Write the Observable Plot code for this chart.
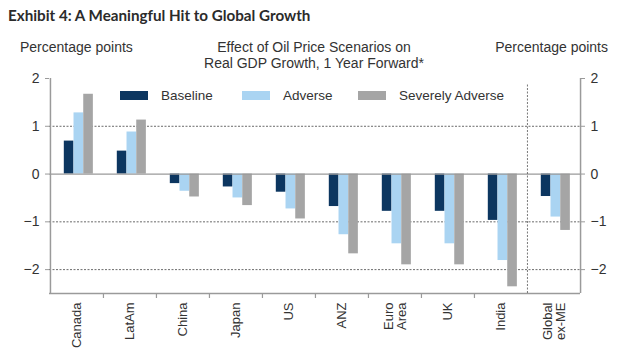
<!DOCTYPE html>
<html><head><meta charset="utf-8">
<script src="https://cdn.jsdelivr.net/npm/d3@7"></script>
<script src="https://cdn.jsdelivr.net/npm/@observablehq/plot@0.6"></script>
<style>
body{margin:0;background:#fff;}
#wrap{position:relative;width:618px;height:348px;font-family:"Liberation Sans",Arial,sans-serif;color:#333;overflow:hidden;}
#wrap svg{position:absolute;left:0;top:0;}
.t{position:absolute;white-space:nowrap;font-size:14px;line-height:16px;}
.sw{position:absolute;width:28px;height:9px;}
</style></head><body><div id="wrap"></div>
<script>
const categories = ["Canada","LatAm","China","Japan","US","ANZ","Euro Area","UK","India","Global ex-ME"];
const categoryLabels = ["Canada","LatAm","China","Japan","US","ANZ","Euro\nArea","UK","India","Global\nex-ME"];
const series = ["Baseline","Adverse","Severely Adverse"];
const baseline = [0.69,0.48,-0.20,-0.27,-0.38,-0.68,-0.78,-0.78,-0.97,-0.47];
const adverse  = [1.28,0.88,-0.36,-0.50,-0.73,-1.27,-1.46,-1.46,-1.81,-0.90];
const severe   = [1.67,1.13,-0.48,-0.66,-0.94,-1.67,-1.90,-1.90,-2.36,-1.18];
const colors = ["#0c3660","#aad4f2","#a5a5a5"];
const yTicks = [2,1,0,-1,-2];
const gridTicks = [1,-1,-2];
const yDomain = [-2.5,2];
const separatorBefore = "Global ex-ME";

const W = 618, H = 348;
const M = {top:78, right:38, bottom:55, left:49};
const step = (W - M.left - M.right) / categories.length;
const lead = step * 0.26, bw = step * 0.183;

const values = [baseline, adverse, severe];
const rows = [];
series.forEach((s, j) => categories.forEach((c, i) => rows.push({cat:c, series:s, value:values[j][i]})));
const labelOf = new Map(categories.map((c,i)=>[c,categoryLabels[i]]));
const fmt = d => d < 0 ? "\u2212" + Math.abs(d) : String(d);

const marks = [
  Plot.gridY(gridTicks, {stroke:"#444", strokeOpacity:1, strokeWidth:0.8, strokeDasharray:"2,1.5"}),
  ...series.map((s, j) => Plot.barY(rows.filter(r => r.series === s), {
    x:"cat", y:"value", fill:colors[j],
    insetLeft: lead + j*bw, insetRight: step - lead - (j+1)*bw
  })),
  Plot.ruleY([0], {stroke:"#9a9a9a", strokeWidth:1.3}),
  Plot.ruleY([yDomain[0]], {stroke:"#9a9a9a", strokeWidth:1.5}),
  Plot.ruleX([categories[0]], {y1:yDomain[0], y2:yDomain[1], dx:-step/2, stroke:"#9a9a9a", strokeWidth:1.5}),
  Plot.ruleX([categories[categories.length-1]], {y1:yDomain[0], y2:yDomain[1], dx:step/2, stroke:"#9a9a9a", strokeWidth:1.5}),
  Plot.ruleX(categories.slice(1).filter(c => c !== separatorBefore), {y1:yDomain[0], y2:yDomain[0], dx:-step/2, insetBottom:-5, stroke:"#9a9a9a", strokeWidth:1.2}),
  Plot.ruleX([separatorBefore], {y1:yDomain[0], y2:yDomain[1], dx:-step/2, insetBottom:-5, stroke:"#555", strokeWidth:0.8, strokeDasharray:"2,1.5"}),
  Plot.axisY(yTicks, {anchor:"left", label:null, tickSize:4, tickPadding:6, stroke:"#9a9a9a", fill:"#333", fontSize:14, tickFormat: fmt}),
  Plot.axisY(yTicks, {anchor:"right", label:null, tickSize:4, tickPadding:6, stroke:"#9a9a9a", fill:"#333", fontSize:14, tickFormat: fmt}),
  Plot.axisX({anchor:"bottom", label:null, tickSize:0, tickPadding:9, tickRotate:-90, fontSize:13, fill:"#333", lineAnchor:"middle", tickFormat: c => labelOf.get(c)})
];

const chart = Plot.plot({
  width: W, height: H,
  marginTop: M.top, marginRight: M.right, marginBottom: M.bottom, marginLeft: M.left,
  style: {fontFamily: '"Liberation Sans", Arial, sans-serif', color:"#333", background:"#fff"},
  x: {type:"band", domain: categories, padding:0, axis:null},
  y: {domain: yDomain, axis:null},
  marks
});

const wrap = document.getElementById("wrap");
wrap.appendChild(chart);

function addText(txt, css, cls="t") {
  const d = document.createElement("div");
  d.className = cls;
  d.innerHTML = txt;
  Object.assign(d.style, css);
  wrap.appendChild(d);
  return d;
}
addText("Exhibit 4: A Meaningful Hit to Global Growth", {left:"8px", top:"5px", fontFamily:"Lato, sans-serif", fontWeight:"bold", fontSize:"15.2px", lineHeight:"20px", color:"#2b2b2b"});
addText("Percentage points", {left:"20px", top:"39px"});
addText("Percentage points", {right:"10px", top:"39px"});
addText("Effect of Oil Price Scenarios on<br>Real GDP Growth, 1 Year Forward*", {left:"314px", top:"39px", transform:"translateX(-50%)", textAlign:"center"});

const legendX = [120, 242, 358];
series.forEach((s, j) => {
  const sw = document.createElement("div");
  sw.className = "sw";
  Object.assign(sw.style, {left: legendX[j]+"px", top:"91px", background: colors[j]});
  wrap.appendChild(sw);
  addText(s, {left:(legendX[j]+41)+"px", top:"88px", fontSize:"13.5px"});
});
</script></body></html>
